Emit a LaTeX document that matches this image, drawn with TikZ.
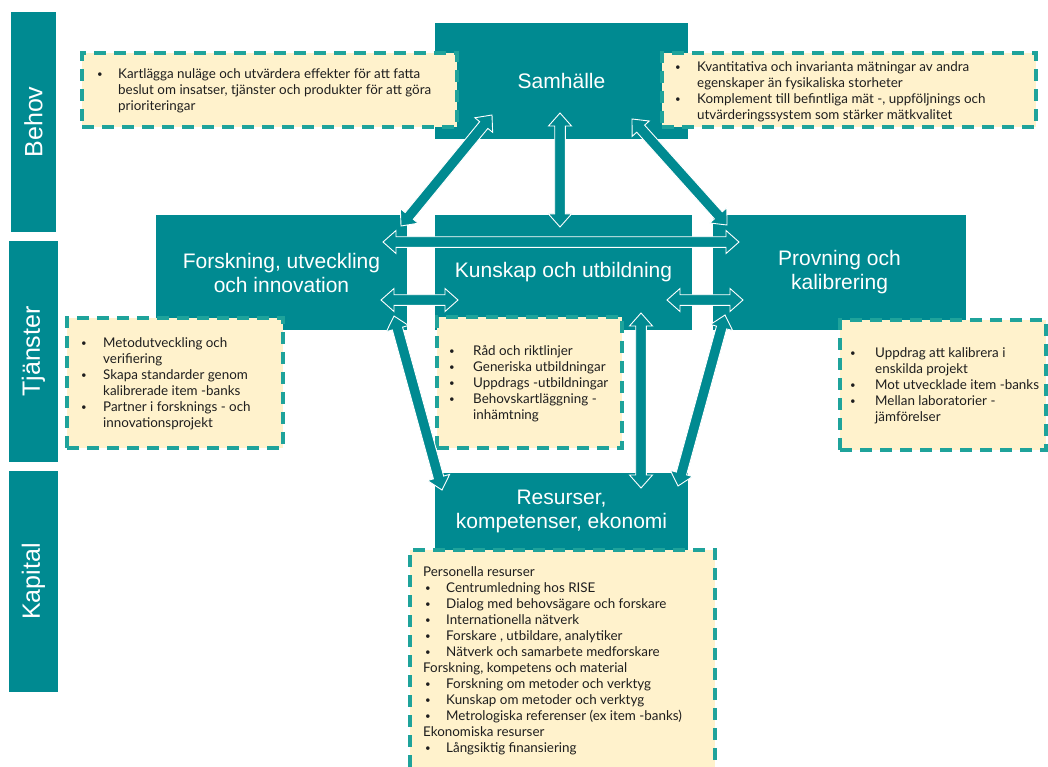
\documentclass[tikz,border=0pt]{standalone}
\usepackage{fontspec}
\setmainfont{Liberation Sans}
\newfontfamily\lato{Lato}
\usetikzlibrary{calc}
\definecolor{teal0}{HTML}{008A91}
\definecolor{dashc}{HTML}{1FA39B}
\definecolor{cream}{HTML}{FFF2CC}
\definecolor{txt}{HTML}{1E1E1E}
\newcommand\bli[1][21pt]{\makebox[#1][l]{\raisebox{0.15ex}{\scalebox{0.72}{\textbullet}}}}
\newcommand\cli[1][21pt]{\hspace*{#1}}
\newcommand\arHL{13pt}
\newcommand\arHW{11.5pt}
\newcommand\arSW{5.3pt}
\newcommand\blockarrow[2]{%
  \draw[blk] (#1)
  -- ($(#1)!\arHL!(#2)!\arHW!90:(#2)$)
  -- ($(#1)!\arHL!(#2)!\arSW!90:(#2)$)
  -- ($(#2)!\arHL!(#1)!\arSW!-90:(#1)$)
  -- ($(#2)!\arHL!(#1)!\arHW!-90:(#1)$)
  -- (#2)
  -- ($(#2)!\arHL!(#1)!\arHW!90:(#1)$)
  -- ($(#2)!\arHL!(#1)!\arSW!90:(#1)$)
  -- ($(#1)!\arHL!(#2)!\arSW!-90:(#2)$)
  -- ($(#1)!\arHL!(#2)!\arHW!-90:(#2)$)
  -- cycle;}
\begin{document}
\begin{tikzpicture}[x=1pt,y=-1pt,
  box/.style={fill=teal0, draw=none, inner sep=0, text=white,
    font=\fontsize{21}{24}\selectfont, align=center},
  side/.style={fill=teal0, draw=none, inner sep=0, text=white,
    font=\fontsize{25}{28}\selectfont},
  note/.style={fill=cream, draw=dashc, line width=3.5pt,
    dash pattern=on 12pt off 8pt, inner sep=0},
  ntext/.style={inner sep=0, anchor=west, align=left, text=txt,
    font=\lato\fontsize{13.4}{16}\selectfont},
  blk/.style={fill=teal0, draw=white, line width=0.9pt, line join=miter}]
\useasboundingbox (0,0) rectangle (1048,767);
\fill[white] (0,0) rectangle (1048,767);

% side bars
\node[side, minimum width=45pt, minimum height=220pt] (behov) at (33.5,122) {\rotatebox{90}{Behov}};
\node[side, minimum width=49pt, minimum height=221pt] (tjanster) at (33.5,351.5) {\rotatebox{90}{Tjänster}};
\node[side, minimum width=49pt, minimum height=221pt] (kapital) at (33.5,581.5) {\rotatebox{90}{Kapital}};

% main boxes
\node[box, minimum width=253pt, minimum height=116pt] (sam) at (561.5,81) {Samhälle};
\node[box, minimum width=251pt, minimum height=115pt] (fou) at (281.5,272.5) {Forskning, utveckling\\och innovation};
\node[box, minimum width=257pt, minimum height=115pt] (kun) at (563.5,272.5) {Kunskap och utbildning};
\node[box, minimum width=253pt, minimum height=115pt] (pro) at (839.5,272.5) {Provning och\\kalibrering};
\node[box, minimum width=253pt, minimum height=77pt] (res) at (561.5,511.5) {Resurser,\\kompetenser, ekonomi};

% note boxes
\node[note, minimum width=375pt, minimum height=74pt] (ntl) at (269.5,90) {};
\node[note, minimum width=374pt, minimum height=74pt] (ntr) at (849,90) {};
\node[note, minimum width=216pt, minimum height=130pt] (nlt) at (175,383) {};
\node[note, minimum width=185pt, minimum height=131pt] (nmd) at (529.5,382.5) {};
\node[note, minimum width=206pt, minimum height=130pt] (nrt) at (943,385) {};
\node[note, minimum width=305pt, minimum height=225pt] (nbt) at (562.5,662.5) {};

% note texts
\node[ntext] (ttl) at (97,91) {\bli[21pt]Kartlägga nuläge och utvärdera effekter för att fatta\\
\cli[21pt]beslut om insatser, tjänster och produkter för att göra\\
\cli[21pt]prioriteringar};
\node[ntext] (ttr) at (675,92) {\bli[22pt]Kvantitativa och invarianta mätningar av andra\\
\cli[22pt]egenskaper än fysikaliska storheter\\
\bli[22pt]Komplement till befintliga mät -, uppföljnings och\\
\cli[22pt]utvärderingssystem som stärker mätkvalitet};
\node[ntext] (tlt) at (81,384) {\bli[22pt]Metodutveckling och\\
\cli[22pt]verifiering\\
\bli[22pt]Skapa standarder genom\\
\cli[22pt]kalibrerade item -banks\\
\bli[22pt]Partner i forsknings - och\\
\cli[22pt]innovationsprojekt};
\node[ntext] (tmd) at (449,383.5) {\bli[24pt]Råd och riktlinjer\\
\bli[24pt]Generiska utbildningar\\
\bli[24pt]Uppdrags -utbildningar\\
\bli[24pt]Behovskartläggning -\\
\cli[24pt]inhämtning};
\node[ntext] (trt) at (850,385.5) {\bli[25pt]Uppdrag att kalibrera i\\
\cli[25pt]enskilda projekt\\
\bli[25pt]Mot utvecklade item -banks\\
\bli[25pt]Mellan laboratorier -\\
\cli[25pt]jämförelser};
\node[ntext] (tbt) at (423,661) {Personella resurser\\
\cli[2pt]\bli[21pt]Centrumledning hos RISE\\
\cli[2pt]\bli[21pt]Dialog med behovsägare och forskare\\
\cli[2pt]\bli[21pt]Internationella nätverk\\
\cli[2pt]\bli[21pt]Forskare , utbildare, analytiker\\
\cli[2pt]\bli[21pt]Nätverk och samarbete medforskare\\
Forskning, kompetens och material\\
\cli[2pt]\bli[21pt]Forskning om metoder och verktyg\\
\cli[2pt]\bli[21pt]Kunskap om metoder och verktyg\\
\cli[2pt]\bli[21pt]Metrologiska referenser (ex item -banks)\\
Ekonomiska resurser\\
\cli[2pt]\bli[21pt]Långsiktig finansiering};

% arrow end points
\coordinate (a1s) at (492,115);  \coordinate (a1f) at (401,226);
\coordinate (a2s) at (560,113);  \coordinate (a2k) at (560,227);
\coordinate (a3s) at (632,119);  \coordinate (a3p) at (727,225);
\coordinate (a4f) at (383,242);  \coordinate (a4p) at (739,242);
\coordinate (a5f) at (381,300);  \coordinate (a5k) at (458,300);
\coordinate (a6k) at (667,300);  \coordinate (a6p) at (743,300);
\coordinate (a7f) at (394,316);  \coordinate (a7r) at (442,490);
\coordinate (a8k) at (641,313);  \coordinate (a8r) at (641,488);
\coordinate (a9p) at (725,315);  \coordinate (a9r) at (678,486);

\blockarrow{a1s}{a1f}
\blockarrow{a2s}{a2k}
\blockarrow{a3s}{a3p}
\blockarrow{a4f}{a4p}
\blockarrow{a5f}{a5k}
\blockarrow{a6k}{a6p}
\blockarrow{a7f}{a7r}
\blockarrow{a8k}{a8r}
\blockarrow{a9p}{a9r}
\end{tikzpicture}
\end{document}
